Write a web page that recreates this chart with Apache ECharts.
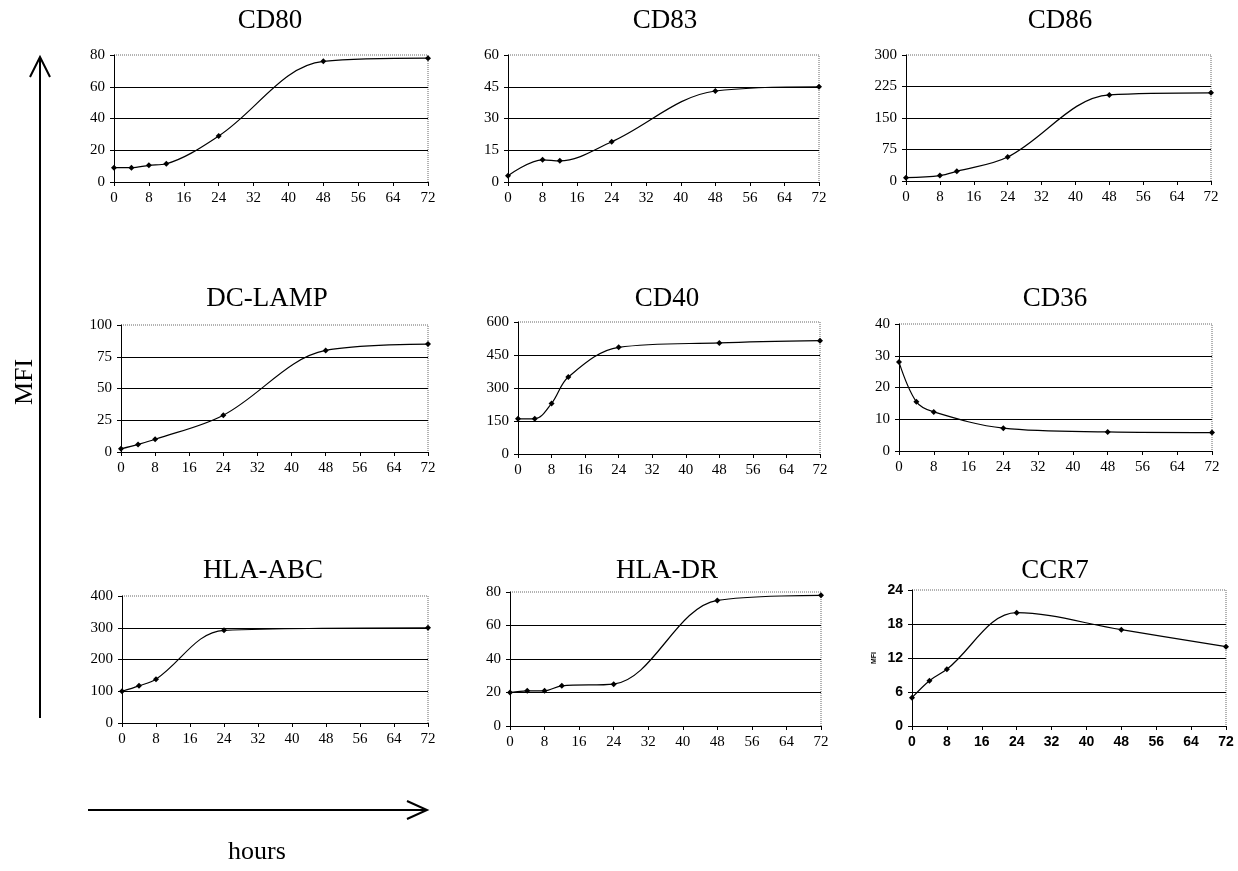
<!DOCTYPE html>
<html>
<head>
<meta charset="utf-8">
<script src="https://cdn.jsdelivr.net/npm/echarts@6/dist/echarts.min.js"></script>
<style>
html, body { margin: 0; padding: 0; background: #fff; }
#chart { width: 1238px; height: 871px; }
</style>
</head>
<body>
<div id="chart"></div>
<script>
// hours of each measurement and MFI values, one pair per marker
var cd80Hours = [0, 4, 8, 12, 24, 48, 72];
var cd80 = [9, 9, 10.5, 11.5, 29, 76, 78];
var cd83Hours = [0, 8, 12, 24, 48, 72];
var cd83 = [3, 10.5, 10, 19, 43, 45];
var cd86Hours = [0, 8, 12, 24, 48, 72];
var cd86 = [8, 13, 23, 57, 205, 210];
var dcLampHours = [0, 4, 8, 24, 48, 72];
var dcLamp = [2.5, 6, 10, 29, 80, 85];
var cd40Hours = [0, 4, 8, 12, 24, 48, 72];
var cd40 = [160, 160, 230, 350, 485, 505, 515];
var cd36Hours = [0, 4, 8, 24, 48, 72];
var cd36 = [28, 15.5, 12.3, 7.2, 6, 5.8];
var hlaAbcHours = [0, 4, 8, 24, 72];
var hlaAbc = [100, 117, 138, 292, 300];
var hlaDrHours = [0, 4, 8, 12, 24, 48, 72];
var hlaDr = [20, 21, 21, 24, 25, 75, 78];
var ccr7Hours = [0, 4, 8, 24, 48, 72];
var ccr7 = [5, 8, 10, 20, 17, 14];

var markers = ['CD80', 'CD83', 'CD86', 'DC-LAMP', 'CD40', 'CD36', 'HLA-ABC', 'HLA-DR', 'CCR7'];
var yMax = [80, 60, 300, 100, 600, 40, 400, 80, 24];
var yStep = [20, 15, 75, 25, 150, 10, 100, 20, 6];
var xMax = 72;
var xStep = 8;

var allHours = [cd80Hours, cd83Hours, cd86Hours, dcLampHours, cd40Hours, cd36Hours, hlaAbcHours, hlaDrHours, ccr7Hours];
var allValues = [cd80, cd83, cd86, dcLamp, cd40, cd36, hlaAbc, hlaDr, ccr7];

var boxes = [
	{left: 114, top: 55, width: 314, height: 127},
	{left: 508, top: 55, width: 311, height: 127},
	{left: 906, top: 55, width: 305, height: 126},
	{left: 121, top: 325, width: 307, height: 127},
	{left: 518, top: 322, width: 302, height: 132},
	{left: 899, top: 324, width: 313, height: 127},
	{left: 122, top: 596, width: 306, height: 127},
	{left: 510, top: 592, width: 311, height: 134},
	{left: 912, top: 590, width: 314, height: 136}
];
var titlePos = [
	[265, 2], [660, 2], [1055, 2],
	[262, 280], [662, 280], [1050, 280],
	[258, 552], [662, 552], [1050, 552]
];

var serif = '"Liberation Serif", "DejaVu Serif", serif';
var sans = '"Liberation Sans", Arial, sans-serif';

var grids = [], xAxes = [], yAxes = [], series = [], titles = [], graphics = [];
for (var i = 0; i < markers.length; i++) {
	var b = boxes[i];
	var isSans = i == 8;
	var labelStyle = {
		color: '#000',
		fontFamily: isSans ? sans : serif,
		fontSize: isSans ? 14 : 15,
		fontWeight: isSans ? 'bold' : 'normal'
	};
	grids.push({left: b.left, top: b.top, width: b.width, height: b.height, containLabel: false});
	titles.push({
		text: markers[i],
		left: titlePos[i][0],
		top: titlePos[i][1],
		textAlign: 'center',
		textStyle: {fontFamily: serif, fontSize: 27, fontWeight: 'normal', color: '#000'}
	});
	xAxes.push({
		type: 'value', gridIndex: i, min: 0, max: xMax, interval: xStep,
		axisLine: {show: true, onZero: false, lineStyle: {color: '#000', width: 1}},
		axisTick: {show: true, length: 4, lineStyle: {color: '#000'}},
		axisLabel: Object.assign({margin: 9}, labelStyle),
		splitLine: {show: false}
	});
	yAxes.push({
		type: 'value', gridIndex: i, min: 0, max: yMax[i], interval: yStep[i],
		name: isSans ? 'MFI' : '',
		nameLocation: 'middle',
		nameGap: 34,
		nameTextStyle: {fontFamily: sans, fontSize: 7, fontWeight: 'bold', color: '#000'},
		axisLine: {show: true, lineStyle: {color: '#000', width: 1}},
		axisTick: {show: true, length: 4, lineStyle: {color: '#000'}},
		axisLabel: Object.assign({margin: 9}, labelStyle),
		splitLine: {show: true, showMaxLine: false, lineStyle: {color: '#000', width: 1}}
	});
	var pts = [];
	for (var j = 0; j < allHours[i].length; j++) {
		pts.push([allHours[i][j], allValues[i][j]]);
	}
	series.push({
		type: 'line', xAxisIndex: i, yAxisIndex: i,
		data: pts,
		smooth: 0.35,
		symbol: 'diamond',
		symbolSize: 6,
		itemStyle: {color: '#000'},
		lineStyle: {color: '#000', width: 1.2},
		animation: false
	});
	// dotted top and right frame of each plot
	graphics.push({
		type: 'polyline', silent: true, z: 0,
		shape: {points: [[b.left, b.top], [b.left + b.width, b.top], [b.left + b.width, b.top + b.height]]},
		style: {stroke: '#666', lineWidth: 1, lineDash: [1, 1], fill: null}
	});
}

// shared axis arrows and labels
graphics.push(
	{type: 'line', shape: {x1: 40, y1: 718, x2: 40, y2: 57}, style: {stroke: '#000', lineWidth: 2}},
	{type: 'polyline', shape: {points: [[30, 77], [40, 57], [50, 77]]}, style: {stroke: '#000', lineWidth: 2, fill: null}},
	{type: 'line', shape: {x1: 88, y1: 810, x2: 427, y2: 810}, style: {stroke: '#000', lineWidth: 2}},
	{type: 'polyline', shape: {points: [[407, 801], [427, 810], [407, 819]]}, style: {stroke: '#000', lineWidth: 2, fill: null}},
	{type: 'text', x: 25, y: 382, rotation: Math.PI / 2,
		style: {text: 'MFI', font: '26px ' + serif, fill: '#000', textAlign: 'center', textVerticalAlign: 'middle'}},
	{type: 'text', x: 257, y: 852,
		style: {text: 'hours', font: '26px ' + serif, fill: '#000', textAlign: 'center', textVerticalAlign: 'middle'}}
);

var chart = echarts.init(document.getElementById('chart'));
chart.setOption({
	backgroundColor: '#fff',
	animation: false,
	title: titles,
	grid: grids,
	xAxis: xAxes,
	yAxis: yAxes,
	series: series,
	graphic: graphics
});
</script>
</body>
</html>
